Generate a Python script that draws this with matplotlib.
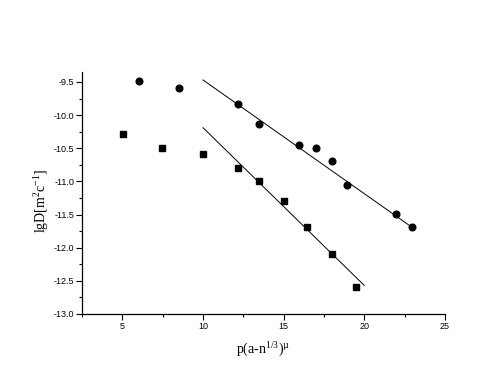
import matplotlib
matplotlib.use("Agg")
import matplotlib.pyplot as plt
from matplotlib.ticker import MultipleLocator, FormatStrFormatter

# data
circ_x = [6.05, 8.5, 12.17, 13.47, 15.98, 17.0, 17.99, 18.95, 21.98, 22.97]
circ_y = [-9.48, -9.59, -9.84, -10.14, -10.45, -10.49, -10.69, -11.05, -11.49, -11.69]
sq_x = [5.04, 7.47, 9.98, 12.17, 13.5, 15.05, 16.46, 17.99, 19.5]
sq_y = [-10.29, -10.49, -10.59, -10.80, -11.0, -11.29, -11.69, -12.1, -12.6]
fit1_x = [10.0, 23.0]
fit1_y = [-9.47, -11.70]
fit2_x = [10.0, 20.0]
fit2_y = [-10.19, -12.57]

plt.rcParams['font.family'] = ['Liberation Sans', 'DejaVu Sans']

fig = plt.figure(figsize=(4.86, 3.77), dpi=100)
ax = fig.add_axes([82/486, 1-314/377, (445-82)/486, (314-72)/377])

ax.plot(fit1_x, fit1_y, color='black', lw=0.7)
ax.plot(fit2_x, fit2_y, color='black', lw=0.7)
ax.plot(circ_x, circ_y, 'o', color='black', ms=4.8, mec='black')
ax.plot(sq_x, sq_y, 's', color='black', ms=4.3, mec='black')

ax.set_xlim(2.5, 25)
ax.set_ylim(-13.0, -9.35)
ax.spines['top'].set_visible(False)
ax.spines['right'].set_visible(False)
ax.spines['left'].set_linewidth(0.9)
ax.spines['bottom'].set_linewidth(0.9)

ax.xaxis.set_major_locator(MultipleLocator(5))
ax.xaxis.set_minor_locator(MultipleLocator(2.5))
ax.yaxis.set_major_locator(MultipleLocator(0.5))
ax.yaxis.set_minor_locator(MultipleLocator(0.25))
ax.yaxis.set_major_formatter(FormatStrFormatter('%.1f'))
ax.xaxis.set_major_formatter(FormatStrFormatter('%d'))
ax.tick_params(which='major', direction='out', length=4, width=0.8, labelsize=6.5, pad=1.5)
ax.tick_params(which='minor', direction='out', length=2.5, width=0.8)

serif = ['Liberation Serif', 'DejaVu Serif']
ax.set_xlabel('p(a-n$^{\\mathregular{1/3}}$)$^{\\mathregular{µ}}$', family=serif, fontsize=10, labelpad=6)
ax.set_ylabel('lgD[m$^{\\mathregular{2}}$c$^{\\mathregular{-1}}$]', family=serif, fontsize=10)
ax.yaxis.set_label_coords(-0.085, 0.467)

fig.savefig('out.png', dpi=100)
